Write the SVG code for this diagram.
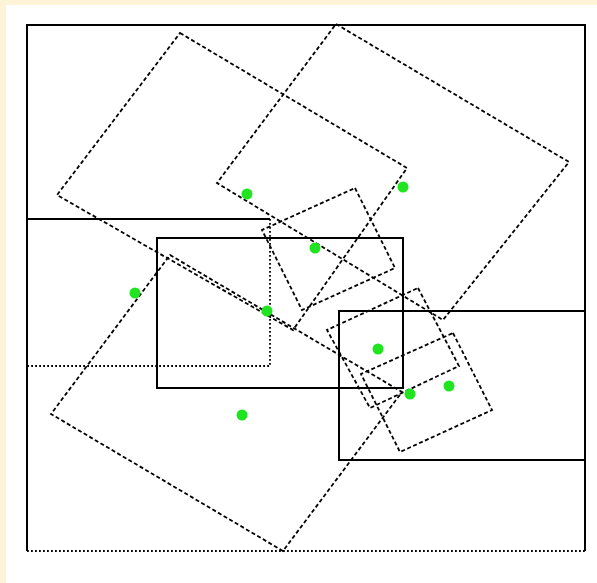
<svg xmlns="http://www.w3.org/2000/svg" width="597" height="583" viewBox="0 0 597 583">
<style>
.solid{fill:none;stroke:#000;stroke-width:2}
.dotted{fill:none;stroke:#000;stroke-width:1.8;stroke-dasharray:1.8 2.2}
.dash{fill:none;stroke:#000;stroke-width:1.8;stroke-dasharray:4 2.5}
.pt{fill:#1fe41f}
</style>
<rect x="0" y="0" width="597" height="583" fill="#fdf3d6"/>
<rect x="6" y="5" width="591" height="578" fill="#ffffff"/>
<g id="frame">
<path class="solid" d="M27,551 L27,25 L585,25 L585,551"/>
<path class="dotted" d="M27,551 L585,551"/>
</g>
<g id="r1">
<path class="solid" d="M27,219 L270,219"/>
<path class="dotted" d="M270,219 L270,366 L27,366"/>
</g>
<g id="r2"><rect class="solid" x="157" y="238" width="246" height="150"/></g>
<g id="r3"><path class="solid" d="M585,311 L339,311 L339,460 L585,460"/></g>
<g id="A"><polygon class="dash" points="180,33 407,168 293,330 57,195"/></g>
<g id="B"><polygon class="dash" points="336,24 569,162 443,320 217,183"/></g>
<g id="D"><polygon class="dash" points="170,255 402,392 283,551 51,414"/></g>
<g id="E"><polygon class="dash" points="355,188 395,268 302,310 262,230"/></g>
<g id="F"><polygon class="dash" points="418,288 459,366 370,408 327,330"/></g>
<g id="G"><polygon class="dash" points="453,333 492,410 400,452 361,374"/></g>
<g id="points">
<circle class="pt" cx="135" cy="293" r="5.5"/>
<circle class="pt" cx="247" cy="194" r="5.5"/>
<circle class="pt" cx="403" cy="187" r="5.5"/>
<circle class="pt" cx="315" cy="248" r="5.5"/>
<circle class="pt" cx="267" cy="311" r="5.5"/>
<circle class="pt" cx="378" cy="349" r="5.5"/>
<circle class="pt" cx="410" cy="394" r="5.5"/>
<circle class="pt" cx="449" cy="386" r="5.5"/>
<circle class="pt" cx="242" cy="415" r="5.5"/>
</g>
</svg>
